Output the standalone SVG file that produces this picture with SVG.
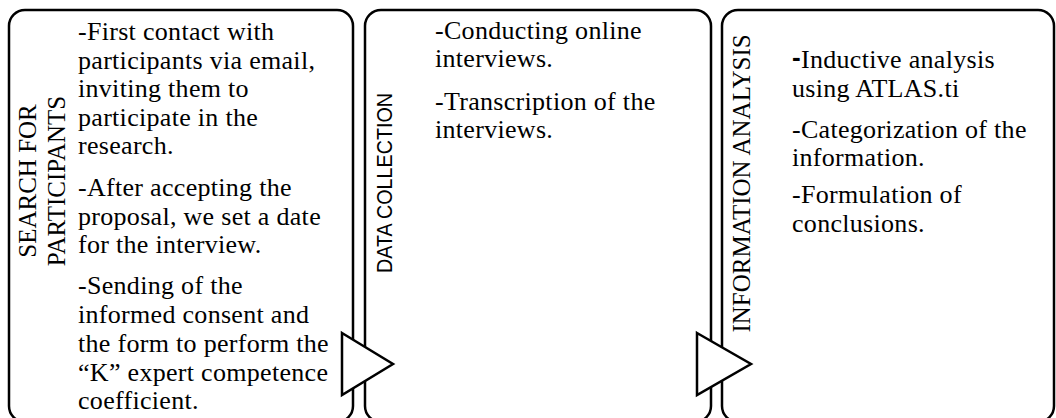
<svg xmlns="http://www.w3.org/2000/svg" width="1056" height="418" viewBox="0 0 1056 418">
<style>
.box{fill:#fff;stroke:#000;stroke-width:2.5}
.tri{fill:#fff;stroke:#000;stroke-width:2.5;stroke-linejoin:miter}
.body{font-family:"Liberation Serif",serif;font-size:26px;letter-spacing:0.3px;fill:#000}
.vlab{font-family:"Liberation Serif",serif;font-size:25px;fill:#000;text-anchor:middle}
.vsans{font-family:"Liberation Sans",sans-serif;font-size:22px;fill:#000;text-anchor:middle}
</style>
<rect width="1056" height="418" fill="#fff"/>
<g id="search">
<rect class="box" x="9" y="10" width="344" height="412" rx="16"/>
<text class="vlab" transform="translate(36,181) rotate(-90)">SEARCH FOR</text>
<text class="vlab" transform="translate(65,181) rotate(-90)">PARTICIPANTS</text>
<text class="body">
<tspan x="78" y="40">-First contact with</tspan>
<tspan x="78" y="68.5">participants via email,</tspan>
<tspan x="78" y="97">inviting them to</tspan>
<tspan x="78" y="125.5">participate in the</tspan>
<tspan x="78" y="154">research.</tspan>
<tspan x="78" y="196">-After accepting the</tspan>
<tspan x="78" y="224.5">proposal, we set a date</tspan>
<tspan x="78" y="253">for the interview.</tspan>
<tspan x="78" y="294">-Sending of the</tspan>
<tspan x="78" y="323">informed consent and</tspan>
<tspan x="78" y="352">the form to perform the</tspan>
<tspan x="78" y="381">“K” expert competence</tspan>
<tspan x="78" y="409">coefficient.</tspan>
</text>
</g>
<g id="collection">
<rect class="box" x="365" y="10" width="346" height="412" rx="16"/>
<text class="vsans" transform="translate(392,183) rotate(-90)" textLength="180" lengthAdjust="spacingAndGlyphs">DATA COLLECTION</text>
<text class="body">
<tspan x="435" y="39">-Conducting online</tspan>
<tspan x="435" y="67">interviews.</tspan>
<tspan x="435" y="110">-Transcription of the</tspan>
<tspan x="435" y="138">interviews.</tspan>
</text>
</g>
<g id="analysis">
<rect class="box" x="722" y="10" width="332" height="412" rx="16"/>
<text class="vlab" transform="translate(750,183.5) rotate(-90)">INFORMATION ANALYSIS</text>
<text class="body">
<tspan x="792" y="66" font-family="Liberation Sans,sans-serif" font-weight="bold">-</tspan><tspan y="68">Inductive analysis</tspan>
<tspan x="792" y="97">using ATLAS.ti</tspan>
<tspan x="792" y="138">-Categorization of the</tspan>
<tspan x="792" y="166">information.</tspan>
<tspan x="792" y="203">-Formulation of</tspan>
<tspan x="792" y="232">conclusions.</tspan>
</text>
</g>
<g id="connectors">
<polygon class="tri" points="342,333 393,364 342,395"/>
<polygon class="tri" points="697,333 751,364 697,395"/>
</g>
</svg>
